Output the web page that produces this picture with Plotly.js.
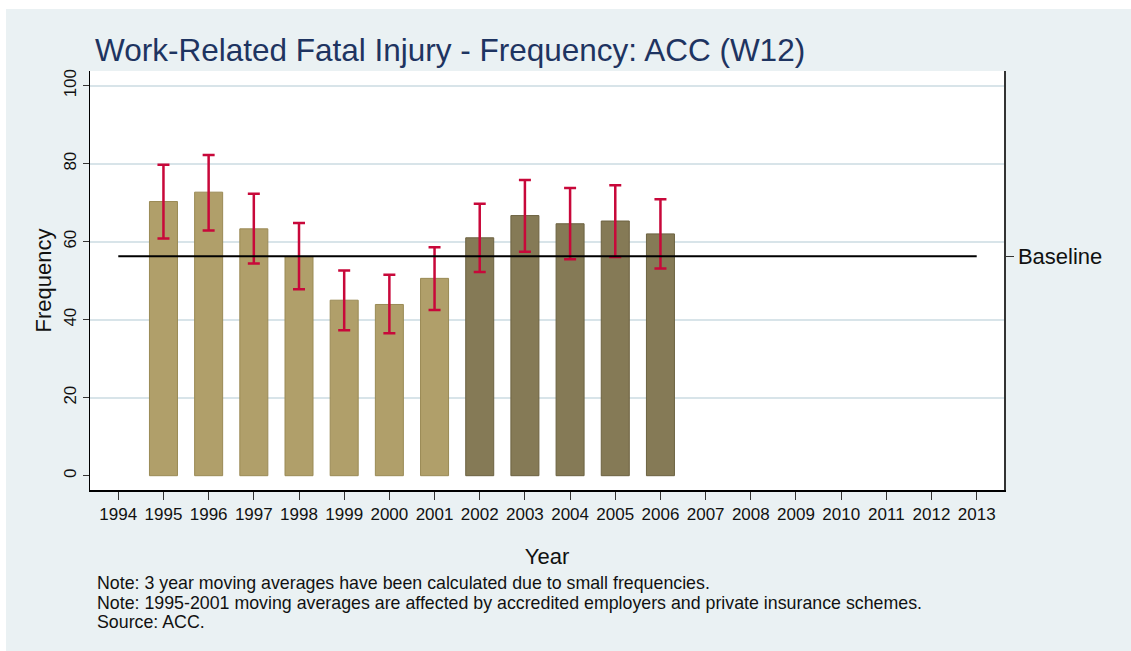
<!DOCTYPE html>
<html>
<head>
<meta charset="utf-8">
<script src="https://cdn.plot.ly/plotly-3.0.1.min.js"></script>
<style>
  html, body { margin: 0; padding: 0; background: #ffffff; }
  #chart { position: absolute; left: 6px; top: 9px; width: 1125px; height: 642px; }
</style>
</head>
<body>
<div id="chart"></div>
<script>
// ---- data ----
const yearsEarly = [1995, 1996, 1997, 1998, 1999, 2000, 2001];
const freqEarly  = [70.3, 72.7, 63.3, 56.2, 45.0, 43.9, 50.6];
const upperEarly = [79.7, 82.2, 72.3, 64.8, 52.6, 51.5, 58.6];
const lowerEarly = [60.8, 62.9, 54.4, 47.8, 37.3, 36.5, 42.5];

const yearsLate = [2002, 2003, 2004, 2005, 2006];
const freqLate  = [61.0, 66.7, 64.6, 65.3, 62.0];
const upperLate = [69.7, 75.8, 73.8, 74.5, 70.9];
const lowerLate = [52.2, 57.4, 55.5, 56.1, 53.1];

const baselineValue = 56.3;
const baselineYears = [1994, 2013];
const tickYears = [1994, 1995, 1996, 1997, 1998, 1999, 2000, 2001, 2002, 2003,
                   2004, 2005, 2006, 2007, 2008, 2009, 2010, 2011, 2012, 2013];
const yTicks = [0, 20, 40, 60, 80, 100];

const titleText = 'Work-Related Fatal Injury - Frequency: ACC (W12)';
const notes = [
  'Note: 3 year moving averages have been calculated due to small frequencies.',
  'Note: 1995-2001 moving averages are affected by accredited employers and private insurance schemes.',
  'Source: ACC.'
];

// ---- helpers ----
const diff = (a, b) => a.map((v, i) => v - b[i]);
const FONT = 'Liberation Sans, Arial, sans-serif';
const ERR_COLOR = '#C8083A';

function barTrace(x, y, up, lo, fill, edge) {
  return {
    type: 'bar', x: x, y: y, width: 0.62,
    marker: { color: fill, line: { color: edge, width: 1 } },
    error_y: {
      type: 'data', symmetric: false,
      array: diff(up, y), arrayminus: diff(y, lo),
      color: ERR_COLOR, thickness: 2.5, width: 6
    },
    hoverinfo: 'skip', showlegend: false
  };
}

const data = [
  barTrace(yearsEarly, freqEarly, upperEarly, lowerEarly, '#B09F6A', '#9A8A55'),
  barTrace(yearsLate, freqLate, upperLate, lowerLate, '#857A56', '#6C6240'),
  {
    type: 'scatter', mode: 'lines', x: baselineYears,
    y: baselineYears.map(() => baselineValue),
    yaxis: 'y2',
    line: { color: '#000000', width: 2 },
    hoverinfo: 'skip', showlegend: false
  }
];

const yRange = [-3.67, 103.77];
const noteShifts = [-93, -113, -132];

const layout = {
  width: 1125, height: 642,
  paper_bgcolor: '#EAF1F3',
  plot_bgcolor: '#FFFFFF',
  margin: { l: 84, r: 127, t: 62, b: 161 },
  barmode: 'overlay',
  font: { family: FONT, color: '#111111', size: 17 },
  title: {
    text: titleText,
    font: { family: FONT, size: 31.5, color: '#1E3461' },
    xref: 'container', x: 89 / 1125, xanchor: 'left',
    yref: 'container', y: 1 - 41 / 642, yanchor: 'middle'
  },
  xaxis: {
    range: [1993.374, 2013.604],
    tickmode: 'array', tickvals: tickYears, ticktext: tickYears.map(String),
    ticks: 'outside', ticklen: 8, tickcolor: '#333333', tickwidth: 1,
    showline: true, linecolor: '#000000', linewidth: 1.5,
    showgrid: false, zeroline: false,
    tickfont: { family: FONT, size: 17, color: '#111111' },
    title: { text: 'Year', font: { family: FONT, size: 22, color: '#111111' }, standoff: 25 }
  },
  yaxis: {
    range: yRange,
    tickmode: 'array', tickvals: yTicks,
    tickangle: -90,
    ticks: 'outside', ticklen: 6, tickcolor: '#333333', tickwidth: 1,
    showline: true, linecolor: '#000000', linewidth: 1.5,
    showgrid: true, gridcolor: '#D8E4E9', gridwidth: 2,
    zeroline: true, zerolinecolor: '#FFFFFF', zerolinewidth: 3,
    tickfont: { family: FONT, size: 17, color: '#111111' },
    title: { text: 'Frequency', font: { family: FONT, size: 22, color: '#111111' }, standoff: 3 }
  },
  yaxis2: {
    overlaying: 'y', side: 'right', range: yRange,
    tickmode: 'array', tickvals: [baselineValue], ticktext: ['Baseline'],
    ticks: 'outside', ticklen: 8, tickcolor: '#333333', tickwidth: 1,
    showline: true, linecolor: '#333333', linewidth: 1.5,
    showgrid: false, zeroline: false,
    tickfont: { family: FONT, size: 22, color: '#111111' }
  },
  annotations: notes.map((t, i) => ({
    xref: 'paper', yref: 'paper', x: 0, xshift: 5, y: 0, yshift: noteShifts[i],
    xanchor: 'left', yanchor: 'middle', align: 'left', showarrow: false,
    text: t,
    font: { family: FONT, size: 17.8, color: '#111111' }
  }))
};

Plotly.newPlot('chart', data, layout, { staticPlot: true, displayModeBar: false });
</script>
</body>
</html>
